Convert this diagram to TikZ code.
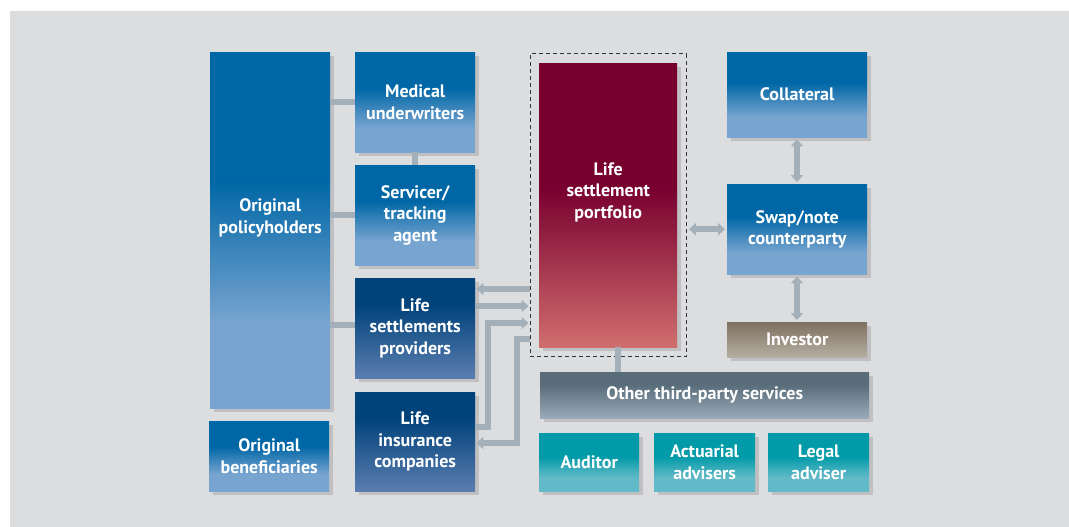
\documentclass[tikz,border=0pt]{standalone}
\usepackage{fontspec}
\newfontfamily\diagfont{PT Sans}
\usetikzlibrary{arrows.meta,shadows,fit}

\definecolor{canvas}{HTML}{DCDDDF}
\definecolor{rail}{HTML}{A3B0BA}
\definecolor{blueT}{HTML}{0067A6}
\definecolor{blueB}{HTML}{78A4D0}
\definecolor{navyT}{HTML}{00427A}
\definecolor{navyB}{HTML}{5B7EB0}
\definecolor{wineT}{HTML}{78002F}
\definecolor{wineB}{HTML}{D06E6E}
\definecolor{tealT}{HTML}{009AA8}
\definecolor{tealB}{HTML}{62B9C7}
\definecolor{slateT}{HTML}{586C7A}
\definecolor{slateB}{HTML}{9AAAB8}
\definecolor{taupeT}{HTML}{7F7160}
\definecolor{taupeB}{HTML}{B5AEA2}

\pgfdeclareverticalshading{blueshade}{100bp}{color(0bp)=(blueB); color(25bp)=(blueB); color(37bp)=(blueB); color(57bp)=(blueT); color(100bp)=(blueT)}
\pgfdeclareverticalshading{navyshade}{100bp}{color(0bp)=(navyB); color(25bp)=(navyB); color(62bp)=(navyT); color(100bp)=(navyT)}
\pgfdeclareverticalshading{wineshade}{100bp}{color(0bp)=(wineB); color(25bp)=(wineB); color(53bp)=(wineT); color(100bp)=(wineT)}
\pgfdeclareverticalshading{tealshade}{100bp}{color(0bp)=(tealB); color(25bp)=(tealB); color(37bp)=(tealB); color(55bp)=(tealT); color(100bp)=(tealT)}
\pgfdeclareverticalshading{slateshade}{100bp}{color(0bp)=(slateB); color(25bp)=(slateB); color(62bp)=(slateT); color(100bp)=(slateT)}
\pgfdeclareverticalshading{taupeshade}{100bp}{color(0bp)=(taupeB); color(25bp)=(taupeB); color(75bp)=(taupeT); color(100bp)=(taupeT)}

\begin{document}
\begin{tikzpicture}[x=1pt, y=-1pt,
	box/.style={anchor=north west, inner sep=0pt, align=center, text=white,
		font=\diagfont\bfseries\fontsize{18}{21.5}\selectfont,
		drop shadow={shadow xshift=4pt, shadow yshift=-4pt, opacity=0.3}},
	bluebox/.style={box, shading=blueshade},
	navybox/.style={box, shading=navyshade},
	winebox/.style={box, shading=wineshade},
	tealbox/.style={box, shading=tealshade},
	slatebox/.style={box, shading=slateshade},
	taupebox/.style={box, shading=taupeshade},
	link/.style={draw=rail, line width=5.5pt},
	arrow/.style={link, -{Triangle[length=7pt, width=12pt]}, shorten >=1pt},
	dblarrow/.style={link, {Triangle[length=7pt, width=12pt]}-{Triangle[length=7pt, width=12pt]}, shorten >=2pt, shorten <=2pt}
	]
	\useasboundingbox (0,0) rectangle (1069,527);
	\fill[white] (0,0) rectangle (1069,527);
	\fill[canvas] (10,11) rectangle (1069,527);
	
	% left column
	\node[bluebox, minimum width=120, minimum height=356, text depth=28pt] (pholders) at (210,52) {Original\\policyholders};
	\node[bluebox, minimum width=120, minimum height=70] (benef) at (209,421) {Original\\beneficiaries};
	
	\node[bluebox, minimum width=120, minimum height=100] (medic) at (355,52) {Medical\\underwriters};
	\node[bluebox, minimum width=120, minimum height=100] (servicer) at (355,165) {Servicer/\\tracking\\agent};
	\node[navybox, minimum width=120, minimum height=100] (providers) at (355,278) {Life\\settlements\\providers};
	\node[navybox, minimum width=120, minimum height=99] (insurers) at (355,392) {Life\\insurance\\companies};
	
	% portfolio
	\node[winebox, minimum width=138, minimum height=284, text depth=30pt] (portfolio) at (539,63) {Life\\settlement\\portfolio};
	\node[draw=black!80, dash pattern=on 4pt off 3pt, line width=1pt, fit=(portfolio), inner sep=9pt] (pframe) {};
	
	% right column
	\node[bluebox, minimum width=140, minimum height=85] (collateral) at (727,52) {Collateral};
	\node[bluebox, minimum width=140, minimum height=90] (swap) at (727,184) {Swap/note\\counterparty};
	\node[taupebox, minimum width=140, minimum height=35] (investor) at (727,322) {Investor};
	
	% services
	\node[slatebox, minimum width=329, minimum height=46] (thirdparty) at (540,372) {Other third-party services};
	\node[tealbox, minimum width=100, minimum height=58] (auditor) at (539,433) {Auditor};
	\node[tealbox, minimum width=101, minimum height=58] (actuarial) at (654,433) {Actuarial\\advisers};
	\node[tealbox, minimum width=101, minimum height=58] (legal) at (768,433) {Legal\\adviser};
	
	% connectors
	\draw[link] (pholders.east |- medic) -- (medic.west);
	\draw[link] (medic.south) -- (servicer.north);
	\draw[link] (pholders.east |- servicer) -- (servicer.west);
	\draw[link] (pholders.east |- 0,325) -- (providers.west |- 0,325);
	\draw[link] (portfolio.south -| 618,0) -- (618,0 |- thirdparty.north);
	
	\draw[arrow] (pframe.west |- 0,289) -- (providers.east |- 0,289);
	\draw[arrow] (providers.east |- 0,306) -- (pframe.west |- 0,306);
	\draw[arrow] (insurers.east |- 0,427) -| (488,323) -- (pframe.west |- 0,323);
	\draw[arrow] (pframe.west |- 0,339) -| (517,443) -- (insurers.east |- 0,443);
	
	\draw[dblarrow] (pframe.east |- swap) -- (swap.west);
	\draw[dblarrow] (collateral.south -| 797,0) -- (797,0 |- swap.north);
	\draw[dblarrow] (swap.south -| 797,0) -- (797,0 |- investor.north);
\end{tikzpicture}
\end{document}
